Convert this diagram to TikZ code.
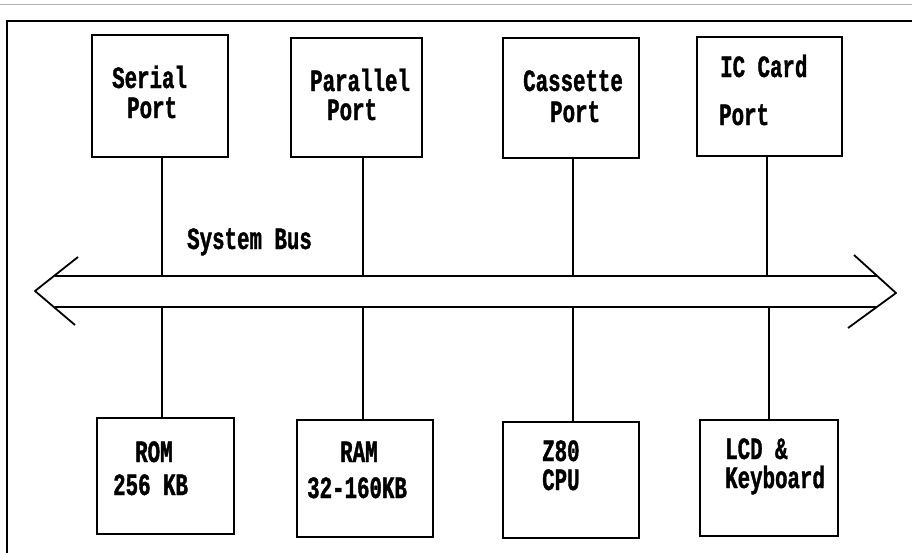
\documentclass[tikz,border=0pt]{standalone}
\usepackage{fontspec}
\newfontfamily\dosfont{Liberation Mono}[FakeStretch=0.67,FakeBold=1.2]
\begin{document}
\begin{tikzpicture}[x=1pt,y=-1pt,
  ln/.style={line width=1.8pt},
  unit/.style={draw,line width=1.8pt,rectangle,inner sep=0pt},
  lbl/.style={anchor=base west,inner sep=0pt,font=\dosfont\bfseries\fontsize{31}{31}\selectfont}]
\useasboundingbox (0,0) rectangle (912,552);
% scan artefact and frame
\draw[gray!60,line width=0.8pt] (0,4) -- (912,4);
\draw[ln] (7,560) -- (7,21) -- (920,21);
% top boxes
\node[unit,minimum width=136pt,minimum height=122pt] (ser) at (160,96) {};
\node[unit,minimum width=131pt,minimum height=119pt] (par) at (356.5,97.5) {};
\node[unit,minimum width=136pt,minimum height=120pt] (cas) at (571,98) {};
\node[unit,minimum width=145pt,minimum height=119pt] (icc) at (769.5,96.5) {};
% bottom boxes
\node[unit,minimum width=137pt,minimum height=116pt] (rom) at (165.5,476) {};
\node[unit,minimum width=136pt,minimum height=117pt] (ram) at (365,478.5) {};
\node[unit,minimum width=136pt,minimum height=116pt] (cpu) at (571,480) {};
\node[unit,minimum width=138pt,minimum height=116pt] (lcd) at (769,478) {};
% labels
\node[lbl] (t1a) at (112,88) {Serial};
\node[lbl] (t1b) at (127,118) {Port};
\node[lbl] (t2a) at (310,91) {Parallel};
\node[lbl] (t2b) at (327,120) {Port};
\node[lbl] (t3a) at (523,91) {Cassette};
\node[lbl] (t3b) at (550,122) {Port};
\node[lbl] (t4a) at (720,77) {IC Card};
\node[lbl] (t4b) at (719,125) {Port};
\node[lbl] (bus) at (187,249) {System Bus};
\node[lbl] (b1a) at (135,462) {ROM};
\node[lbl] (b1b) at (113,495) {256 KB};
\node[lbl] (b2a) at (340,462) {RAM};
\node[lbl] (b2b) at (307,498) {32-160KB};
\node[lbl] (b3a) at (542,461) {Z80};
\node[lbl] (b3b) at (542,490) {CPU};
\node[lbl] (b4a) at (725,459) {LCD \&};
\node[lbl] (b4b) at (725,488) {Keyboard};
% bus
\coordinate (busTL) at (55,276);
\coordinate (busTR) at (877,276);
\coordinate (busBL) at (55,307);
\coordinate (busBR) at (877,307);
\coordinate (tipL) at (35,291);
\coordinate (tipR) at (896,293);
\draw[ln] (busTL) -- (busTR);
\draw[ln] (busBL) -- (busBR);
\draw[ln,line join=round] (78,257) -- (tipL) -- (75,325);
\draw[ln,line join=round] (854,255) -- (tipR) -- (848,328);
% taps
\coordinate (u1) at (162,276); \coordinate (d1) at (162,307);
\coordinate (u2) at (363,276); \coordinate (d2) at (363,307);
\coordinate (u3) at (573,276); \coordinate (d3) at (573,307);
\coordinate (u4) at (767,276); \coordinate (d4) at (769,307);
\draw[ln] (u1 |- ser.south) -- (u1);
\draw[ln] (u2 |- par.south) -- (u2);
\draw[ln] (u3 |- cas.south) -- (u3);
\draw[ln] (u4 |- icc.south) -- (u4);
\draw[ln] (d1) -- (d1 |- rom.north);
\draw[ln] (d2) -- (d2 |- ram.north);
\draw[ln] (d3) -- (d3 |- cpu.north);
\draw[ln] (d4) -- (d4 |- lcd.north);
\end{tikzpicture}
\end{document}
